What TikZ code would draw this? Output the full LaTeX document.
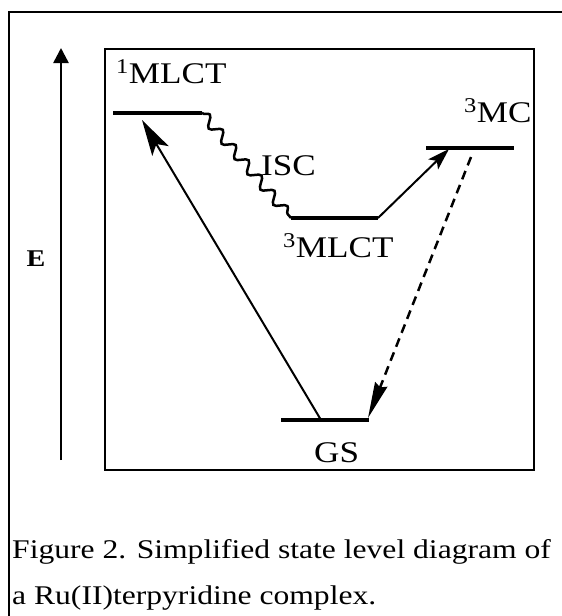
\documentclass[tikz,border=0pt]{standalone}
\usepackage{fontspec}
\setmainfont{Liberation Serif}[FakeStretch=1.17]
\usetikzlibrary{arrows.meta,decorations.pathmorphing}
\begin{document}
\begin{tikzpicture}[x=1pt,y=-1pt,
  levelline/.style={line width=3.5pt},
  lab/.style={font=\fontsize{30}{30}\selectfont, inner sep=0pt, anchor=base west},
  caption/.style={font=\fontsize{27}{27}\selectfont, inner sep=0pt, anchor=base west},
  trans/.style={line width=2pt},
  isc/.style={line width=2.5pt, decorate, decoration={snake, segment length=20pt, amplitude=5pt}}]
\useasboundingbox (0,0) rectangle (562,616);
% outer frame
\coordinate (fr1) at (562,12);
\coordinate (fr2) at (9,12);
\coordinate (fr3) at (9,616);
\draw[line width=1.5pt] (fr1) -- (fr2) -- (fr3);
% inner box
\node[draw, line width=2pt, minimum width=429pt, minimum height=421pt, inner sep=0pt, anchor=north west] (box) at (104,48) {};
% energy axis
\coordinate (Ebot) at (61,460);
\coordinate (Etop) at (61,48);
\draw[line width=2.5pt,-{Triangle[length=15pt,width=15pt]}] (Ebot) -- (Etop);
\node[font=\bfseries\fontsize{24}{24}\selectfont, inner sep=0pt, anchor=base] (E) at (36,266) {E};
% levels
\coordinate (s1a) at (113,113); \coordinate (s1b) at (202,113);
\coordinate (t1a) at (291,218); \coordinate (t1b) at (378,218);
\coordinate (mca) at (426,148); \coordinate (mcb) at (514,148);
\coordinate (gsa) at (281,420); \coordinate (gsb) at (369,420);
\draw[levelline] (s1a) -- (s1b);
\draw[levelline] (t1a) -- (t1b);
\draw[levelline] (mca) -- (mcb);
\draw[levelline] (gsa) -- (gsb);
% labels
\node[lab] (l1) at (116,83) {\textsuperscript{1}MLCT};
\node[lab] (lisc) at (261,175) {ISC};
\node[lab] (l3) at (283,257) {\textsuperscript{3}MLCT};
\node[lab] (lmc) at (464,122) {\textsuperscript{3}MC};
\node[lab] (lgs) at (314,462) {GS};
% transitions
\draw[isc] (s1b) -- (t1a);
\coordinate (exs) at (321,420);
\coordinate (ext) at (142,120);
\draw[trans, -{Stealth[length=36pt,width=19pt,inset=8pt]}] (exs) -- (ext);
\coordinate (mct) at (449,149);
\draw[trans, -{Stealth[length=22pt,width=14pt,inset=5pt]}] (t1b) -- (mct);
\coordinate (ds) at (471,157);
\coordinate (dt) at (368,418);
\draw[line width=2.5pt, dash pattern=on 9pt off 6pt, -{Stealth[length=36pt,width=13pt,inset=3pt]}] (ds) -- (dt);
% caption
\node[caption] (cap1) at (12,558) {Figure 2. Simplified state level diagram of};
\node[caption] (cap2) at (12,604) {a Ru(II)terpyridine complex.};
\end{tikzpicture}
\end{document}
